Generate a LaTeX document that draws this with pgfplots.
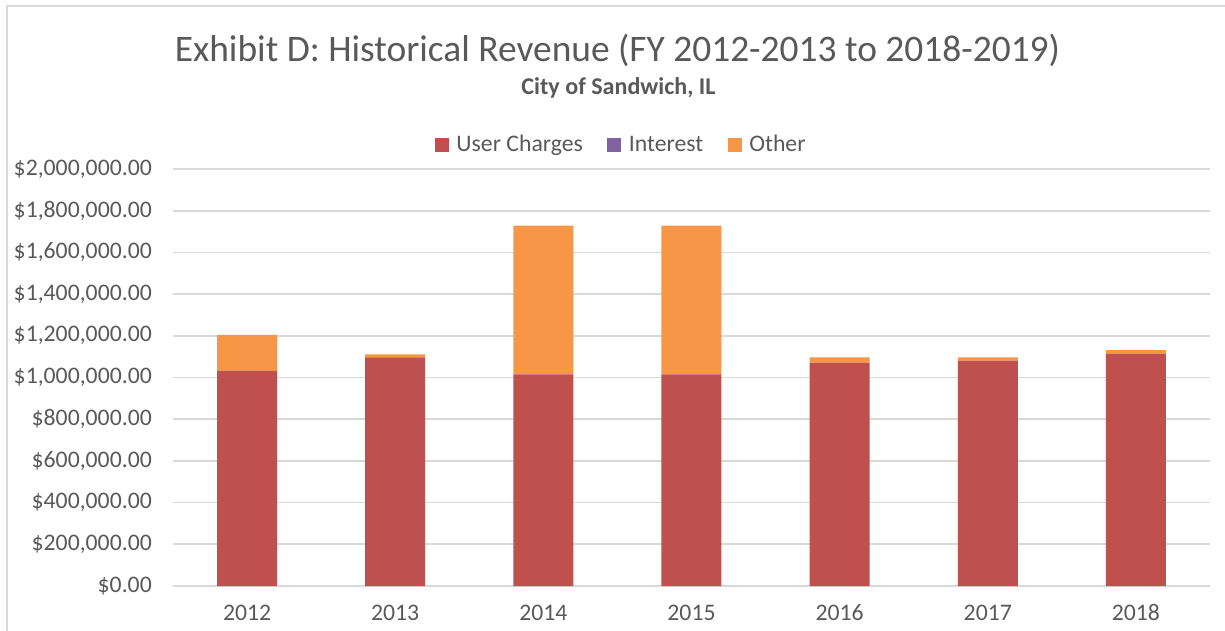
\documentclass[border=0pt]{standalone}
\usepackage{pgfplots}
\pgfplotsset{compat=1.18}
\usepackage{pgfplotstable}
\usepackage{fontspec}
\setmainfont{Carlito}
\definecolor{txt}{HTML}{595959}
\definecolor{gridc}{HTML}{D9D9D9}
\definecolor{userc}{HTML}{C0504D}
\definecolor{intr}{HTML}{8064A2}
\definecolor{oth}{HTML}{F79646}

% fiscal years at 0..6
\pgfplotstableread{
x user interest other
0 1033000 0 171000
1 1097000 0 14000
2 1015000 0 714000
3 1015000 0 714000
4 1071000 0 26000
5 1081000 0 16000
6 1114000 0 17000
}\revenue

\begin{document}
\begin{tikzpicture}
\path[use as bounding box] (0,0) rectangle (24.5,12.6);
\draw[gridc, line width=1.2pt] (0.14,-0.2) -- (0.14,12.48) -- (24.8,12.48);
\node[txt, font=\fontsize{21.3}{25}\selectfont] at (12.35,11.6) {Exhibit D: Historical Revenue (FY 2012-2013 to 2018-2019)};
\node[txt, font=\fontsize{13.7}{16}\selectfont\bfseries] at (12.37,10.84) {City of Sandwich, IL};
\begin{axis}[
  at={(3.46cm,0.88cm)}, anchor=south west,
  width=20.74cm, height=8.34cm, scale only axis,
  ybar stacked, bar width=1.2cm,
  xmin=-0.5, xmax=6.5, ymin=0, ymax=2000000,
  axis line style={draw=none},
  xtick={0,...,6},
  xticklabels={2012,2013,2014,2015,2016,2017,2018},
  ytick={0,200000,...,2000000},
  yticklabels={{\$0.00},{\$200,000.00},{\$400,000.00},{\$600,000.00},{\$800,000.00},{\$1,000,000.00},{\$1,200,000.00},{\$1,400,000.00},{\$1,600,000.00},{\$1,800,000.00},{\$2,000,000.00}},
  scaled y ticks=false,
  major tick length=0pt,
  ymajorgrids, grid style={gridc, line width=1pt},
  tick label style={txt, font=\fontsize{13.5}{16}\selectfont},
  yticklabel style={xshift=-0.3cm},
  xticklabel style={yshift=-0.25cm},
  legend style={at={(0.433,1)}, anchor=center, yshift=0.48cm, draw=none, fill=none,
    legend columns=-1, font=\fontsize{13.5}{16}\selectfont, text=txt,
    /tikz/every even column/.append style={column sep=0.42cm}},
  legend image code/.code={\fill[#1] (0cm,-0.14cm) rectangle (0.28cm,0.14cm);
    \path (0.36cm,0cm);},
]
\addplot[fill=userc, draw=none] table[x=x, y=user] {\revenue};
\addplot[fill=intr, draw=none] table[x=x, y=interest] {\revenue};
\addplot[fill=oth, draw=none] table[x=x, y=other] {\revenue};
\legend{User Charges, Interest, Other}
\end{axis}
\end{tikzpicture}
\end{document}
